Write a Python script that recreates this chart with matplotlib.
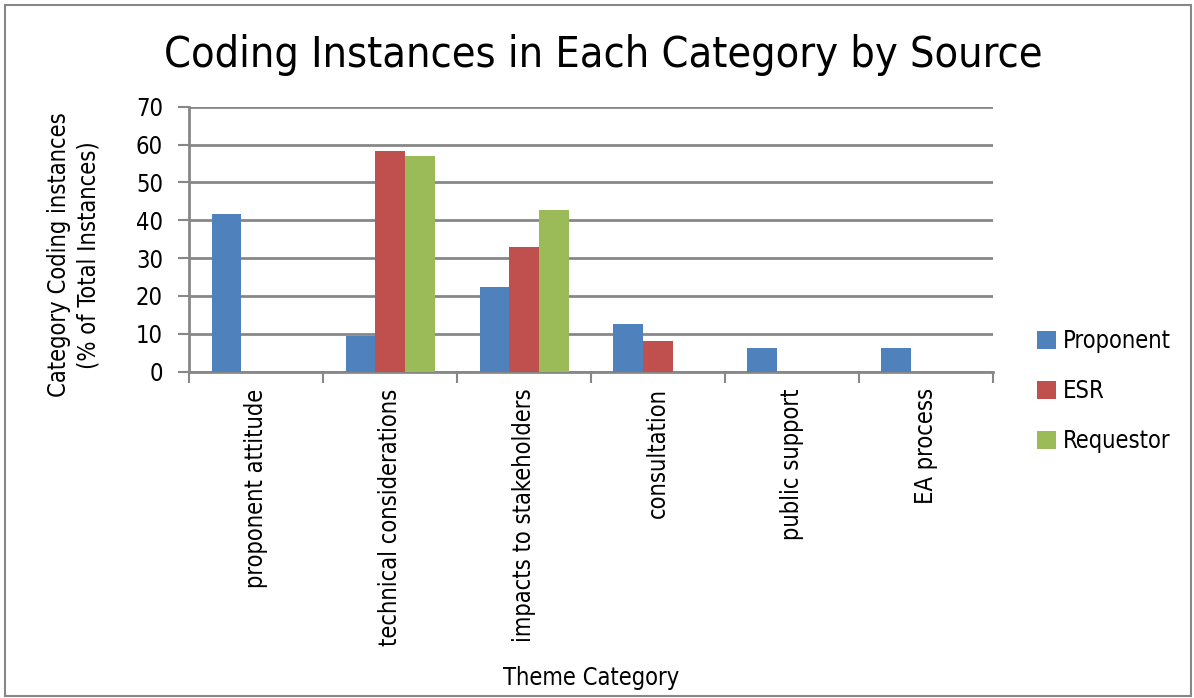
import matplotlib
matplotlib.use("Agg")
import matplotlib.pyplot as plt
import numpy as np
from matplotlib.patches import Rectangle

categories = ["proponent attitude", "technical considerations", "impacts to stakeholders",
              "consultation", "public support", "EA process"]
proponent = [41.6, 9.4, 22.4, 12.6, 6.2, 6.2]
esr = [0, 58.2, 33.0, 8.0, 0, 0]
requestor = [0, 56.9, 42.7, 0, 0, 0]
series_names = ["Proponent", "ESR", "Requestor"]
colors = ["#4F81BD", "#C0504D", "#9BBB59"]
yticks = [0, 10, 20, 30, 40, 50, 60, 70]

FONT = ["Liberation Sans Narrow", "DejaVu Sans"]
plt.rcParams['font.family'] = FONT
plt.rcParams['font.stretch'] = 'condensed'

W, H = 1194, 698
fig = plt.figure(figsize=(W/100, H/100), dpi=100)

# outer border
fig.patches.append(Rectangle((5/W, 2/H), (1191-5)/W, (693-2)/H, transform=fig.transFigure,
                             fill=False, edgecolor="#878787", linewidth=1.5))

left, right, top, bottom = 189.3, 993, 106.7, 371.7
ax = fig.add_axes([left/W, 1-bottom/H, (right-left)/W, (bottom-top)/H])

x = np.arange(len(categories))
bw = 1/4.5
for i, (vals, name, c) in enumerate(zip([proponent, esr, requestor], series_names, colors)):
    ax.bar(x + (i-1)*bw, vals, width=bw, color=c, label=name, linewidth=0, zorder=3)

ax.set_xlim(-0.5, len(categories)-0.5)
ax.set_ylim(0, 70)
ax.set_yticks(yticks)
ax.set_yticklabels([str(v) for v in yticks], fontsize=17)
ax.yaxis.grid(True, color="#878787", linewidth=2, zorder=0)
ax.set_axisbelow(True)

ax.set_xticks(np.arange(len(categories)+1) - 0.5)
ax.set_xticklabels([])
ax.set_xticks(x, minor=True)
ax.set_xticklabels(categories, minor=True, rotation=90, fontsize=17, va='top', ha='center')
ax.tick_params(axis='x', which='minor', length=0, pad=12)
ax.tick_params(axis='x', which='major', length=8, width=1.5, color="#878787", direction='out')
ax.tick_params(axis='y', length=8, width=1.5, color="#878787", pad=11)

for s in ['top', 'right']:
    ax.spines[s].set_visible(False)
for s in ['left', 'bottom']:
    ax.spines[s].set_color("#878787")
    ax.spines[s].set_linewidth(2)

fig.text(603/W, 1-55/H, "Coding Instances in Each Category by Source", fontsize=31,
         ha='center', va='center')
fig.text(74/W, 1-255/H, "Category Coding instances\n(% of Total Instances)", fontsize=17,
         rotation=90, ha='center', va='center', linespacing=1.3, multialignment='center')
fig.text(591/W, 1-678/H, "Theme Category", fontsize=17, ha='center', va='center')

handles, labels = ax.get_legend_handles_labels()
leg = fig.legend(handles, labels, loc='center left', bbox_to_anchor=(1037/W, 1-391/H),
                 frameon=False, fontsize=17, handlelength=0.8, handleheight=0.8,
                 handletextpad=0.3, labelspacing=1.1, borderaxespad=0, borderpad=0)

fig.savefig("out.png", dpi=100)
